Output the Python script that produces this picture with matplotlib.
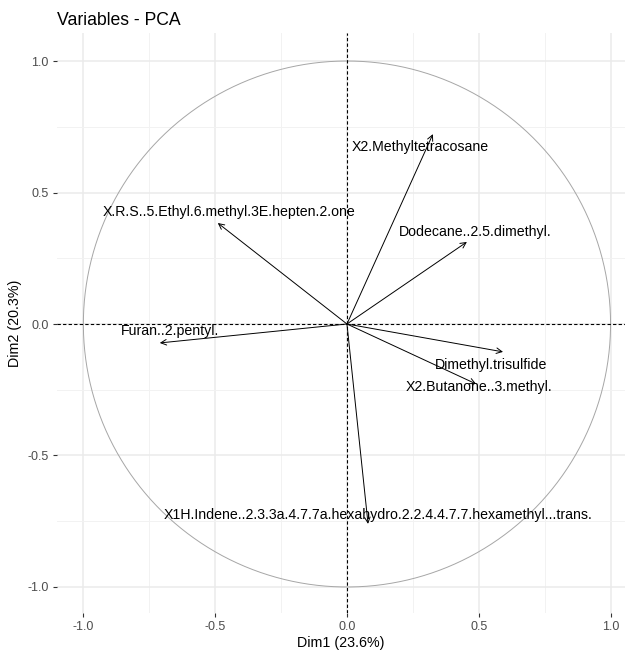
import numpy as np
import matplotlib.pyplot as plt

plt.rcParams['font.family'] = ['Liberation Sans', 'DejaVu Sans']

# ========== 变量坐标 (Dim1, Dim2) ==========
var_names = [
    'X2.Methyltetracosane',
    'Dodecane..2.5.dimethyl.',
    'X.R.S..5.Ethyl.6.methyl.3E.hepten.2.one',
    'Furan..2.pentyl.',
    'Dimethyl.trisulfide',
    'X2.Butanone..3.methyl.',
    'X1H.Indene..2.3.3a.4.7.7a.hexahydro.2.2.4.4.7.7.hexamethyl...trans.',
]
dim1 = [0.326, 0.455, -0.49, -0.71, 0.592, 0.49, 0.08]
dim2 = [0.722, 0.312, 0.384, -0.072, -0.106, -0.228, -0.76]
dim1_pct = 23.6
dim2_pct = 20.3

# 标签相对箭头末端的偏移 (points)
label_offsets = [(-9.4, -9.4), (5.8, 7.2), (8.3, 7.9), (7.2, 8.6),
                 (-8.3, -9.4), (1.8, -2.2), (7.2, 6.5)]

fig = plt.figure(figsize=(6.27, 6.56), dpi=100)
ax = fig.add_axes([0.0909, 0.0655, 0.906, 0.884])

# 网格
ax.set_xlim(-1.10, 1.055)
ax.set_ylim(-1.099, 1.106)
major = [-1.0, -0.5, 0.0, 0.5, 1.0]
minor = [-0.75, -0.25, 0.25, 0.75]
ax.set_xticks(major)
ax.set_yticks(major)
ax.set_xticks(minor, minor=True)
ax.set_yticks(minor, minor=True)
ax.grid(True, which='major', color='#EBEBEB', linewidth=1.1)
ax.grid(True, which='minor', color='#F2F2F2', linewidth=0.7)
ax.set_axisbelow(True)
for s in ax.spines.values():
    s.set_visible(False)
ax.tick_params(which='major', length=3, width=0.8, color='#333333',
               labelsize=9, labelcolor='#4D4D4D', pad=3)
ax.tick_params(which='minor', length=0)
ax.set_xticklabels(['-1.0', '-0.5', '0.0', '0.5', '1.0'])
ax.set_yticklabels(['-1.0', '-0.5', '0.0', '0.5', '1.0'])

# 相关圆
theta = np.linspace(0, 2 * np.pi, 400)
ax.plot(np.cos(theta), np.sin(theta), color='#A6A6A6', linewidth=0.7)

# 坐标轴虚线
ax.axhline(0, color='black', linestyle='--', linewidth=0.8, dashes=(3, 2))
ax.axvline(0, color='black', linestyle='--', linewidth=0.8, dashes=(3, 2))

# 变量箭头与标签
for name, x, y, off in zip(var_names, dim1, dim2, label_offsets):
    ax.annotate('', xy=(x, y), xytext=(0, 0),
                arrowprops=dict(arrowstyle='->', color='black', lw=0.7,
                                shrinkA=0, shrinkB=0, mutation_scale=10))
    ax.annotate(name, xy=(x, y), xytext=off, textcoords='offset points',
                ha='center', va='center', fontsize=10.2, color='black')

ax.set_xlabel(f'Dim1 ({dim1_pct}%)', fontsize=10.3, labelpad=2)
ax.set_ylabel(f'Dim2 ({dim2_pct}%)', fontsize=10.3, labelpad=4)
ax.set_title('Variables - PCA', loc='left', fontsize=12.7, pad=6)

plt.savefig('out.png', dpi=100)
